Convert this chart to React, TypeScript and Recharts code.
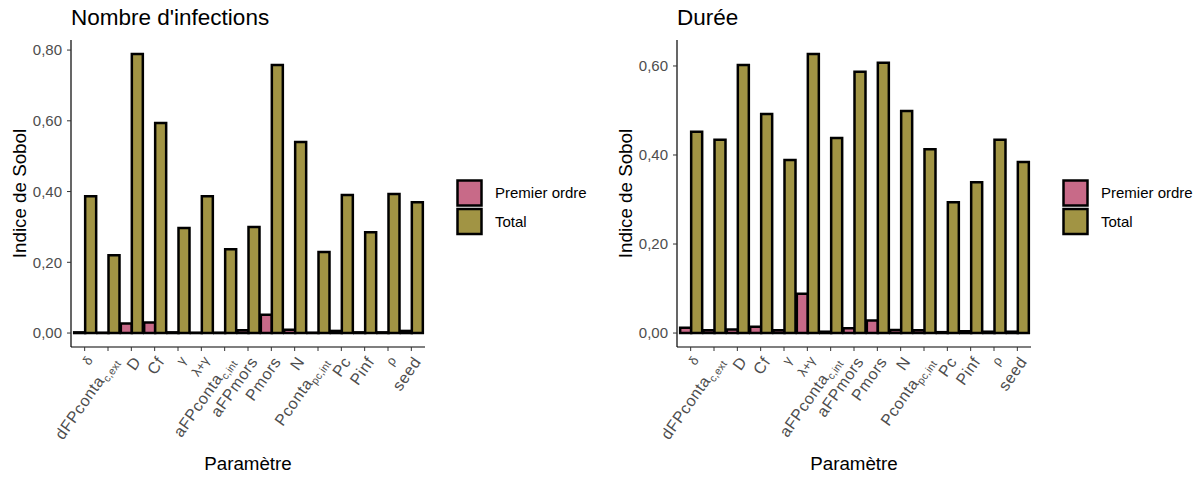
import { BarChart, Bar, XAxis, YAxis } from "recharts";

const paramKeys = ["delta", "dFPconta_cext", "D", "Cf", "gamma", "lambda_gamma", "aFPconta_cint", "aFPmors", "Pmors", "N", "Pconta_pcint", "Pc", "Pinf", "rho", "seed"];
const tickMain = ["δ", "dFPconta", "D", "Cf", "γ", "λ+γ", "aFPconta", "aFPmors", "Pmors", "N", "Pconta", "Pc", "Pinf", "ρ", "seed"];
const tickSub = ["", "c,ext", "", "", "", "", "c,int", "", "", "", "pc,int", "", "", "", ""];
const tickGreek = [true, false, false, false, true, true, false, false, false, false, false, false, false, true, false];

const infectionsPremier = [0.002, 0.001, 0.027, 0.030, 0.002, 0.001, 0.001, 0.008, 0.052, 0.009, 0.001, 0.006, 0.002, 0.002, 0.006];
const infectionsTotal = [0.387, 0.220, 0.789, 0.594, 0.297, 0.387, 0.237, 0.300, 0.758, 0.540, 0.229, 0.390, 0.285, 0.393, 0.370];
const infectionsTicks = [0, 0.2, 0.4, 0.6, 0.8];

const dureePremier = [0.012, 0.006, 0.008, 0.014, 0.006, 0.088, 0.003, 0.011, 0.028, 0.007, 0.006, 0.002, 0.004, 0.003, 0.003];
const dureeTotal = [0.452, 0.434, 0.602, 0.492, 0.389, 0.627, 0.438, 0.587, 0.607, 0.499, 0.413, 0.294, 0.339, 0.434, 0.384];
const dureeTicks = [0, 0.2, 0.4, 0.6];

const PINK = "#C86A88";
const OLIVE = "#A19444";
const FONT = "'Liberation Sans', Arial, sans-serif";

const W = 590;
const H = 478;
const PLOT_LEFT = 71;
const PLOT_RIGHT = 425;
const PLOT_TOP = 40;
const X_AXIS_H = 131;
const PLOT_BOTTOM = H - X_AXIS_H;

const fmt = (v: number) => v.toFixed(2).replace(".", ",");

function XTick(props: any) {
  const { x, payload } = props;
  const i = paramKeys.indexOf(payload.value);
  const greek = tickGreek[i];
  return (
    <g transform={`translate(${x + 1},${PLOT_BOTTOM + 8})`}>
      <text
        transform="rotate(-55)"
        textAnchor="end"
        dy="0.72em"
        fill="#4D4D4D"
        fontSize={greek ? 13 : 16}
        letterSpacing={greek ? 0 : 0.6}
        fontFamily={FONT}
      >
        {tickMain[i]}
        {tickSub[i] && (
          <tspan fontSize={10.5} dy="0.35em" letterSpacing={0.2}>
            {tickSub[i]}
          </tspan>
        )}
      </text>
    </g>
  );
}

function Panel({ left, title, premier, total, ticks }: { left: number; title: string; premier: number[]; total: number[]; ticks: number[] }) {
  const data = paramKeys.map((k, i) => ({ key: k, premier: premier[i], total: total[i] }));
  const max = Math.max(...total, ...premier);
  const domain = [-0.05 * max, 1.05 * max];
  const cx = (PLOT_LEFT + PLOT_RIGHT) / 2;
  const cy = (PLOT_TOP + PLOT_BOTTOM) / 2;

  return (
    <div style={{ position: "absolute", left, top: 0, width: W, height: H }}>
      <BarChart
        width={W}
        height={H}
        data={data}
        margin={{ top: PLOT_TOP, right: W - PLOT_RIGHT, bottom: 0, left: 0 }}
        barCategoryGap="5%"
        barGap={0}
      >
        <XAxis
          dataKey="key"
          interval={0}
          height={X_AXIS_H}
          padding={{ left: 2, right: 2 }}
          tickSize={4}
          axisLine={{ stroke: "#000", strokeWidth: 1.2 }}
          tickLine={{ stroke: "#333" }}
          tick={(p: any) => <XTick {...p} />}
        />
        <YAxis
          width={PLOT_LEFT}
          domain={domain}
          ticks={ticks}
          allowDataOverflow
          tickFormatter={fmt}
          tickSize={4}
          tickMargin={5}
          axisLine={{ stroke: "#000", strokeWidth: 1.2 }}
          tickLine={{ stroke: "#333" }}
          tick={{ fill: "#4D4D4D", fontSize: 15, fontFamily: FONT }}
        />
        <Bar dataKey="premier" fill={PINK} stroke="#000" strokeWidth={2.5} isAnimationActive={false} />
        <Bar dataKey="total" fill={OLIVE} stroke="#000" strokeWidth={2.5} isAnimationActive={false} />
      </BarChart>
      <svg
        width={W}
        height={H}
        style={{ position: "absolute", left: 0, top: 0, pointerEvents: "none" }}
        fontFamily={FONT}
      >
        <text x={PLOT_LEFT} y={25} fontSize={22.5} fill="#000">
          {title}
        </text>
        <text transform={`translate(26,${cy}) rotate(-90)`} textAnchor="middle" fontSize={18.75} fill="#000">
          Indice de Sobol
        </text>
        <text x={cx} y={470} textAnchor="middle" fontSize={18.75} fill="#000">
          Paramètre
        </text>
        <rect x={457.5} y={180.5} width={24} height={25} fill={PINK} stroke="#000" strokeWidth={2.5} />
        <rect x={457.5} y={209} width={24} height={25} fill={OLIVE} stroke="#000" strokeWidth={2.5} />
        <text x={495} y={198} fontSize={15} fill="#000">
          Premier ordre
        </text>
        <text x={495} y={226.5} fontSize={15} fill="#000">
          Total
        </text>
      </svg>
    </div>
  );
}

export default function App() {
  return (
    <div style={{ position: "absolute", left: 0, top: 0, width: 1197, height: H, background: "#fff", fontFamily: FONT }}>
      <Panel left={0} title="Nombre d'infections" premier={infectionsPremier} total={infectionsTotal} ticks={infectionsTicks} />
      <Panel left={606} title="Durée" premier={dureePremier} total={dureeTotal} ticks={dureeTicks} />
    </div>
  );
}
